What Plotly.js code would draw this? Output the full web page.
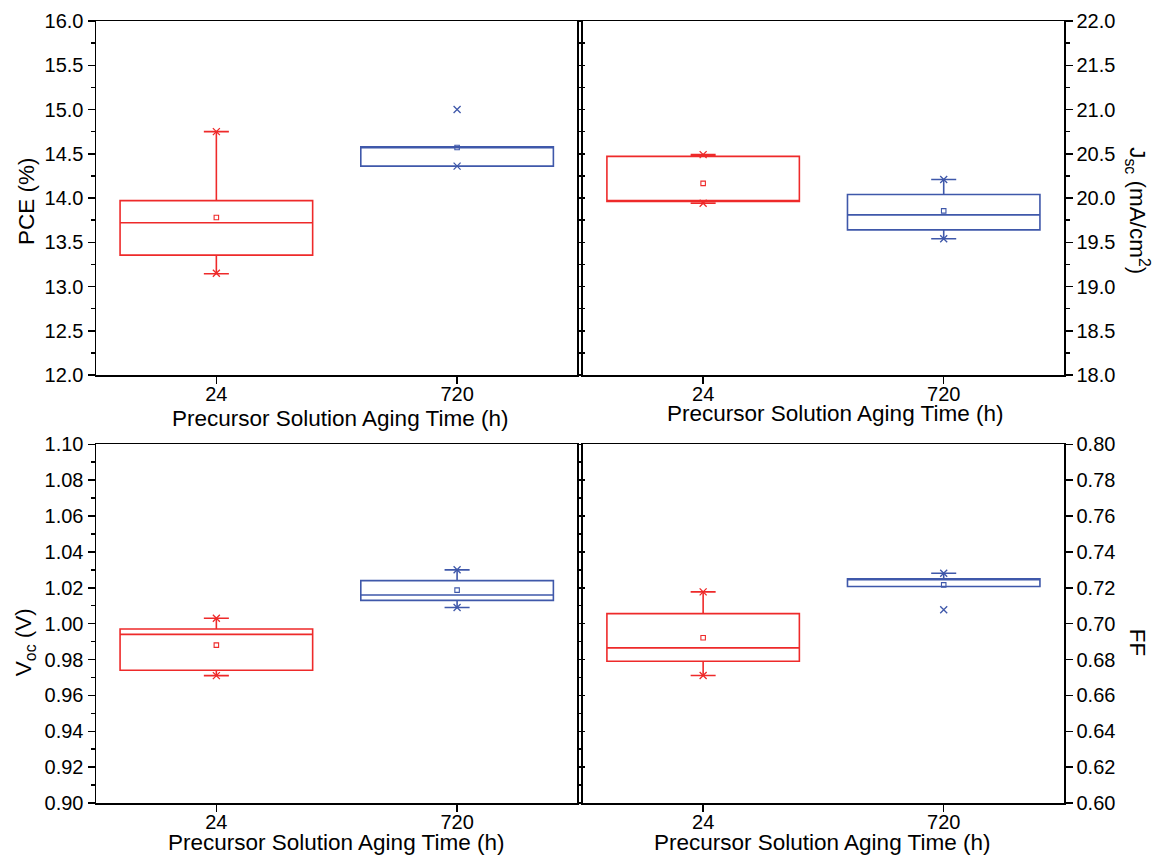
<!DOCTYPE html>
<html>
<head>
<meta charset="utf-8">
<script src="https://cdn.plot.ly/plotly-3.0.1.min.js"></script>
<style>html,body{margin:0;padding:0;background:#fff;}#chart{width:1159px;height:857px;}</style>
</head>
<body>
<div id="chart"></div>
<script>
// ---- data ----
const categories = ['24', '720'];
const colors = ['#ee2a2a', '#3f58aa'];

// PCE (%)
const pceQ1 = [13.355, 14.36];
const pceMedian = [13.72, 14.58];
const pceQ3 = [13.97, 14.58];
const pceLowerWhisker = [13.145, 14.36];
const pceUpperWhisker = [14.75, 14.58];
const pceMean = [13.78, 14.57];
const pceMin = [13.15, 14.36];
const pceMax = [14.75, 15.00];

// Jsc (mA/cm2)
const jscQ1 = [19.96, 19.64];
const jscMedian = [19.96, 19.81];
const jscQ3 = [20.47, 20.04];
const jscLowerWhisker = [19.94, 19.54];
const jscUpperWhisker = [20.49, 20.21];
const jscMean = [20.165, 19.855];
const jscMin = [19.94, 19.54];
const jscMax = [20.49, 20.21];

// Voc (V)
const vocQ1 = [0.974, 1.013];
const vocMedian = [0.994, 1.016];
const vocQ3 = [0.997, 1.024];
const vocLowerWhisker = [0.971, 1.009];
const vocUpperWhisker = [1.003, 1.030];
const vocMean = [0.988, 1.0187];
const vocMin = [0.971, 1.009];
const vocMax = [1.003, 1.030];

// FF
const ffQ1 = [0.679, 0.7207];
const ffMedian = [0.6865, 0.7245];
const ffQ3 = [0.7056, 0.725];
const ffLowerWhisker = [0.6711, 0.7207];
const ffUpperWhisker = [0.7177, 0.7281];
const ffMean = [0.6921, 0.7216];
const ffMin = [0.6711, 0.7077];
const ffMax = [0.7177, 0.7281];

// ---- build traces ----
const panels = [
  {xa: 'x',  ya: 'y',  q1: pceQ1, med: pceMedian, q3: pceQ3, lo: pceLowerWhisker, hi: pceUpperWhisker, mean: pceMean, mn: pceMin, mx: pceMax},
  {xa: 'x2', ya: 'y2', q1: jscQ1, med: jscMedian, q3: jscQ3, lo: jscLowerWhisker, hi: jscUpperWhisker, mean: jscMean, mn: jscMin, mx: jscMax},
  {xa: 'x3', ya: 'y3', q1: vocQ1, med: vocMedian, q3: vocQ3, lo: vocLowerWhisker, hi: vocUpperWhisker, mean: vocMean, mn: vocMin, mx: vocMax},
  {xa: 'x4', ya: 'y4', q1: ffQ1, med: ffMedian, q3: ffQ3, lo: ffLowerWhisker, hi: ffUpperWhisker, mean: ffMean, mn: ffMin, mx: ffMax}
];

const traces = [];
panels.forEach(p => {
  categories.forEach((c, i) => {
    traces.push({
      type: 'box', xaxis: p.xa, yaxis: p.ya,
      x: [c], q1: [p.q1[i]], median: [p.med[i]], q3: [p.q3[i]],
      lowerfence: [p.lo[i]], upperfence: [p.hi[i]],
      width: 0.8, whiskerwidth: 0.13, boxpoints: false,
      fillcolor: 'rgba(0,0,0,0)',
      line: {color: colors[i], width: 1.6},
      showlegend: false, hoverinfo: 'skip'
    });
    traces.push({
      type: 'scatter', mode: 'markers', xaxis: p.xa, yaxis: p.ya,
      x: [c], y: [p.mean[i]],
      marker: {symbol: 'square-open', size: 4.5, color: colors[i], line: {width: 1.1, color: colors[i]}},
      showlegend: false, hoverinfo: 'skip'
    });
    traces.push({
      type: 'scatter', mode: 'markers', xaxis: p.xa, yaxis: p.ya,
      x: [c, c], y: [p.mn[i], p.mx[i]],
      marker: {symbol: 'x-thin-open', size: 7, color: colors[i], line: {width: 1.3, color: colors[i]}},
      showlegend: false, hoverinfo: 'skip'
    });
  });
});
// empty traces so the inner-edge tick axes get drawn
[['x', 'y5'], ['x2', 'y6'], ['x3', 'y7'], ['x4', 'y8']].forEach(a => {
  traces.push({type: 'scatter', mode: 'markers', xaxis: a[0], yaxis: a[1], x: [], y: [], showlegend: false, hoverinfo: 'skip'});
});

// ---- layout ----
const W = 1159, H = 857;
const L = 95.7, R = 1064, T = 20.7, B = 803.3;
const pw = R - L, ph = B - T;
const px = v => (v - L) / pw;
const py = v => (B - v) / ph;

const font = {family: 'Liberation Sans, Arial, sans-serif', size: 20, color: '#000'};

function xAxis(dom, anchor) {
  return {
    domain: dom, anchor: anchor, type: 'category',
    categoryorder: 'array', categoryarray: categories,
    range: [-0.5, 1.5], showgrid: false, zeroline: false,
    showline: true, linewidth: 1.5, linecolor: '#000', mirror: true,
    ticks: 'outside', ticklen: 7, tickwidth: 1.5, tickcolor: '#000',
    ticklabelstandoff: -7,
    tickfont: font, fixedrange: true
  };
}
function yAxis(dom, anchor, side, range, dtick, minor, fmt) {
  const ax = {
    domain: dom, anchor: anchor, side: side, range: range,
    tick0: range[0], dtick: dtick, tickformat: fmt,
    showgrid: false, zeroline: false,
    showline: true, linewidth: 1.5, linecolor: '#000', mirror: true,
    ticks: 'outside', ticklen: 7, tickwidth: 1.5, tickcolor: '#000',
    tickfont: font, fixedrange: true
  };
  if (minor) ax.minor = {dtick: minor, tick0: range[0], ticks: 'outside', ticklen: 4, tickwidth: 1.5, tickcolor: '#000', showgrid: false};
  return ax;
}
function edgeTicks(over, anchor, side, range, dtick, dir) {
  return {
    overlaying: over, anchor: anchor, side: side, range: range,
    tick0: range[0], dtick: dtick, ticks: dir, ticklen: 2.5, tickwidth: 1.5, tickcolor: '#000',
    showticklabels: false, showline: false, showgrid: false, zeroline: false, fixedrange: true
  };
}

const xL = [0, px(577.3)], xR = [px(582.7), 1];
const yTop = [py(375), 1], yBot = [0, py(444.3)];

const titleFont = {family: 'Liberation Sans, Arial, sans-serif', size: 22.5, color: '#000'};
const xTitle = 'Precursor Solution Aging Time (h)';

const layout = {
  width: W, height: H,
  margin: {l: L, r: W - R, t: T, b: H - B, pad: 0},
  paper_bgcolor: '#fff', plot_bgcolor: '#fff',
  font: font,
  showlegend: false,
  boxmode: 'overlay',
  xaxis:  xAxis(xL, 'y'),
  yaxis:  yAxis(yTop, 'x', 'left', [12, 16], 0.5, 0.25, '.1f'),
  xaxis2: xAxis(xR, 'y2'),
  yaxis2: yAxis(yTop, 'x2', 'right', [18, 22], 0.5, 0.25, '.1f'),
  xaxis3: xAxis(xL, 'y3'),
  yaxis3: yAxis(yBot, 'x3', 'left', [0.9, 1.1], 0.02, 0.01, '.2f'),
  xaxis4: xAxis(xR, 'y4'),
  yaxis4: yAxis(yBot, 'x4', 'right', [0.6, 0.8], 0.02, null, '.2f'),
  yaxis5: edgeTicks('y', 'x', 'right', [12, 16], 0.25, 'outside'),
  yaxis6: edgeTicks('y2', 'x2', 'left', [18, 22], 0.25, 'inside'),
  yaxis7: edgeTicks('y3', 'x3', 'right', [0.9, 1.1], 0.01, 'outside'),
  yaxis8: edgeTicks('y4', 'x4', 'left', [0.6, 0.8], 0.02, 'inside'),
  annotations: [
    {text: 'PCE (%)', xref: 'paper', yref: 'paper', x: px(25.5), y: py(201), textangle: -90, showarrow: false, font: titleFont, xanchor: 'center', yanchor: 'middle'},
    {text: 'V<sub>oc</sub> (V)', xref: 'paper', yref: 'paper', x: px(25), y: py(642), textangle: -90, showarrow: false, font: titleFont, xanchor: 'center', yanchor: 'middle'},
    {text: 'J<sub>sc</sub> (mA/cm<sup>2</sup>)', xref: 'paper', yref: 'paper', x: px(1138), y: py(211), textangle: 90, showarrow: false, font: titleFont, xanchor: 'center', yanchor: 'middle'},
    {text: 'FF', xref: 'paper', yref: 'paper', x: px(1137), y: py(643), textangle: 90, showarrow: false, font: titleFont, xanchor: 'center', yanchor: 'middle'},
    {text: xTitle, xref: 'paper', yref: 'paper', x: px(340), y: py(419), showarrow: false, font: titleFont, xanchor: 'center', yanchor: 'middle'},
    {text: xTitle, xref: 'paper', yref: 'paper', x: px(835), y: py(414), showarrow: false, font: titleFont, xanchor: 'center', yanchor: 'middle'},
    {text: xTitle, xref: 'paper', yref: 'paper', x: px(336), y: py(843), showarrow: false, font: titleFont, xanchor: 'center', yanchor: 'middle'},
    {text: xTitle, xref: 'paper', yref: 'paper', x: px(822), y: py(843), showarrow: false, font: titleFont, xanchor: 'center', yanchor: 'middle'}
  ]
};

Plotly.newPlot('chart', traces, layout, {staticPlot: true, displayModeBar: false});
</script>
</body>
</html>
